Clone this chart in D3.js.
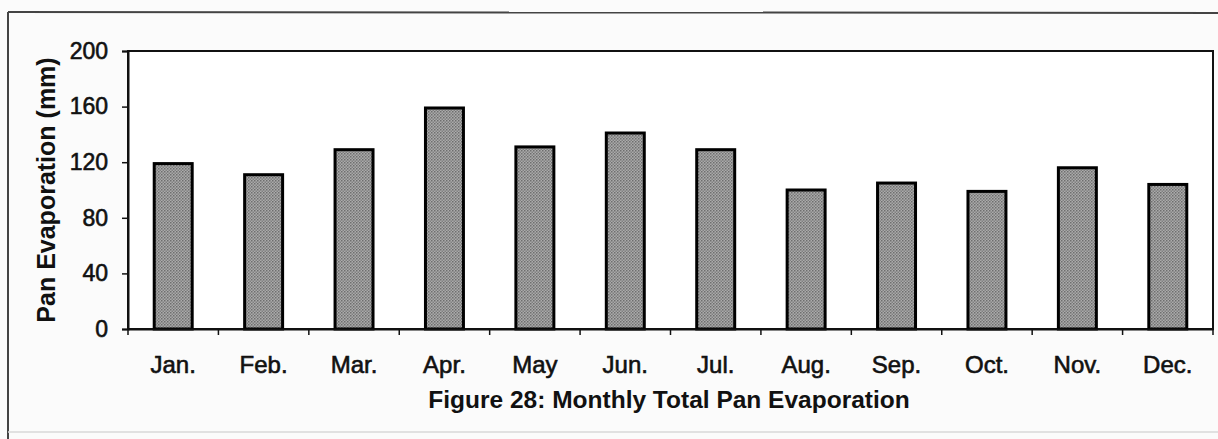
<!DOCTYPE html>
<html>
<head>
<meta charset="utf-8">
<script src="https://cdn.jsdelivr.net/npm/d3@7"></script>
<style>
    body { margin: 0; background: #fbfbfb; }
    text { font-family: "Liberation Sans", Arial, sans-serif; fill: #111; }
    .heavy { stroke: #111; stroke-width: 0.6px; }
</style>
</head>
<body>
<div id="chart"></div>
<script>
const months = ["Jan.", "Feb.", "Mar.", "Apr.", "May", "Jun.", "Jul.", "Aug.", "Sep.", "Oct.", "Nov.", "Dec."];
const evaporation = [119, 111, 129, 159, 131, 141, 129, 100, 105, 99, 116, 104];
const yTicks = [0, 40, 80, 120, 160, 200];

const W = 1218, H = 439;
const margin = { top: 51, right: 5, bottom: 110, left: 128 };
const width = W - margin.left - margin.right;
const height = H - margin.top - margin.bottom;

const svg = d3.select("#chart")
    .append("svg")
    .attr("width", W)
    .attr("height", H);

// dotted grey fill like the scanned print
const defs = svg.append("defs");
const pat = defs.append("pattern")
    .attr("id", "stipple")
    .attr("width", 3)
    .attr("height", 3)
    .attr("patternUnits", "userSpaceOnUse");
pat.append("rect").attr("width", 3).attr("height", 3).attr("fill", "#ababab");
pat.append("rect").attr("width", 1.5).attr("height", 1.5).attr("fill", "#6e6e6e");
pat.append("rect").attr("x", 1.5).attr("y", 1.5).attr("width", 1.5).attr("height", 1.5).attr("fill", "#808080");

// outer frame
svg.append("line").attr("x1", 8).attr("y1", 12).attr("x2", W).attr("y2", 13)
    .attr("stroke", "#444").attr("stroke-width", 2);
svg.append("line").attr("x1", 8).attr("y1", 12).attr("x2", 8).attr("y2", H)
    .attr("stroke", "#444").attr("stroke-width", 2);
svg.append("line").attr("x1", 8).attr("y1", 432).attr("x2", W).attr("y2", 432)
    .attr("stroke", "#d8d8d8").attr("stroke-width", 1.5);

const g = svg.append("g")
    .attr("transform", `translate(${margin.left},${margin.top})`);

const x = d3.scaleBand()
    .domain(months)
    .range([0, width])
    .paddingInner(0.58)
    .paddingOuter(0.29);

const y = d3.scaleLinear()
    .domain([0, 200])
    .range([height, 0]);

g.append("rect")
    .attr("width", width)
    .attr("height", height)
    .attr("fill", "#fff")
    .attr("stroke", "#111")
    .attr("stroke-width", 2);

g.selectAll(".bar")
    .data(evaporation)
    .enter()
    .append("rect")
    .attr("class", "bar")
    .attr("x", (d, i) => x(months[i]))
    .attr("y", d => y(d))
    .attr("width", x.bandwidth())
    .attr("height", d => height - y(d))
    .attr("fill", "url(#stipple)")
    .attr("stroke", "#000")
    .attr("stroke-width", 3);

// y axis
const yAxis = g.append("g")
    .call(d3.axisLeft(y).tickValues(yTicks).tickSize(6).tickPadding(14));
yAxis.select(".domain").attr("stroke", "#111").attr("stroke-width", 2);
yAxis.selectAll("line").attr("stroke", "#111").attr("stroke-width", 1.5);
yAxis.selectAll("text").attr("class", "heavy").style("font-size", "23px").attr("fill", "#111");

// x axis: ticks sit on category boundaries
const xAxis = g.append("g")
    .attr("transform", `translate(0,${height})`)
    .call(d3.axisBottom(x).tickSize(0).tickPadding(0));
xAxis.select(".domain").attr("stroke", "#111").attr("stroke-width", 2);
xAxis.selectAll("text")
    .attr("class", "heavy")
    .attr("dy", null)
    .attr("y", 44)
    .style("font-size", "24px");

const boundaries = d3.range(months.length + 1).map(i => i * x.step());
g.selectAll(".xtick")
    .data(boundaries)
    .enter()
    .append("line")
    .attr("x1", d => d)
    .attr("x2", d => d)
    .attr("y1", height)
    .attr("y2", height + 6)
    .attr("stroke", "#111")
    .attr("stroke-width", 1.5);

// axis title
svg.append("text")
    .attr("transform", `translate(55,${margin.top + height / 2}) rotate(-90)`)
    .attr("text-anchor", "middle")
    .style("font-size", "25px")
    .style("font-weight", "bold")
    .text("Pan Evaporation (mm)");

// caption
svg.append("text")
    .attr("x", 669)
    .attr("y", 408)
    .attr("text-anchor", "middle")
    .style("font-size", "24.5px")
    .style("font-weight", "bold")
    .text("Figure 28: Monthly Total Pan Evaporation");
</script>
</body>
</html>
